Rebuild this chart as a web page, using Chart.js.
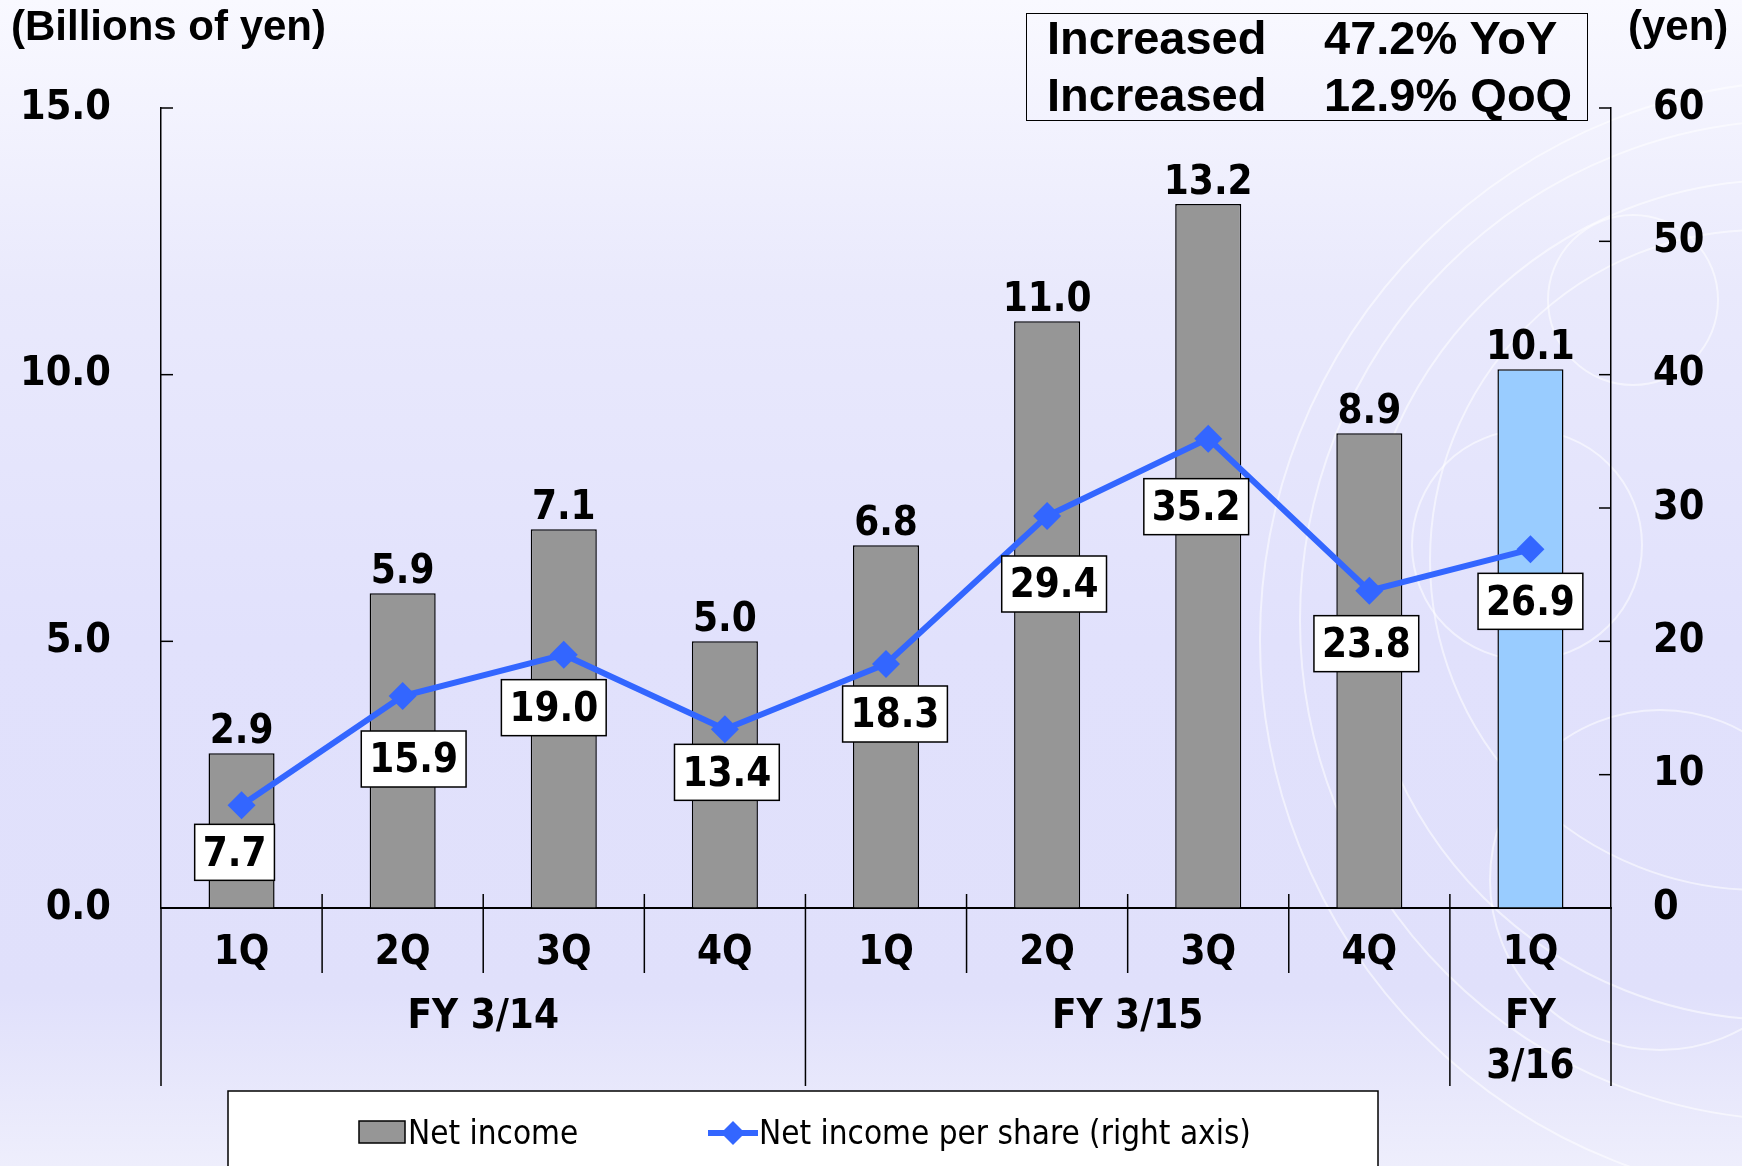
<!DOCTYPE html>
<html>
<head>
<meta charset="utf-8">
<script src="https://cdn.jsdelivr.net/npm/chart.js@4.4.1/dist/chart.umd.min.js"></script>
<style>
  html, body { margin: 0; padding: 0; }
  body {
    width: 1742px; height: 1166px; overflow: hidden; position: relative;
    background: linear-gradient(to bottom, #f9f9ff 0%, #e9e9fc 25%, #e1e1fc 55%, #e0e0fb 85%, #eeeefc 100%);
  }
  #wrap { position: absolute; left: 0; top: 0; width: 1742px; height: 1166px; }
  .unit { position: absolute; top: 2px; font: bold 42px 'Liberation Sans', Arial, sans-serif; color: #000; white-space: nowrap; }
  #note {
    position: absolute; left: 1026px; top: 13px; width: 562px; height: 108px; box-sizing: border-box;
    border: 1.5px solid #000; font: bold 47px 'Liberation Sans', Arial, sans-serif; color: #000;
  }
  #note span { position: absolute; line-height: 47px; white-space: nowrap; }
</style>
</head>
<body>
<div id="wrap"><canvas id="chart" width="1742" height="1166"></canvas></div>
<div class="unit" style="left:11px">(Billions of yen)</div>
<div class="unit" style="left:1628px">(yen)</div>
<div id="note">
  <span style="left:20px;top:0px">Increased</span><span style="left:297px;top:0px">47.2% YoY</span>
  <span style="left:20px;top:57px">Increased</span><span style="left:297px;top:57px">12.9% QoQ</span>
</div>
<script>
const quarters = ['1Q', '2Q', '3Q', '4Q', '1Q', '2Q', '3Q', '4Q', '1Q'];
const fiscalYears = [['FY 3/14'], ['FY 3/15'], ['FY', '3/16']];
const yearStarts = [0, 4, 8];
const yearEnds = [4, 8, 9];
const netIncome = [2.9, 5.9, 7.1, 5.0, 6.8, 11.0, 13.2, 8.9, 10.1];
const netIncomePerShare = [7.7, 15.9, 19.0, 13.4, 18.3, 29.4, 35.2, 23.8, 26.9];
const seriesNames = ['Net income', 'Net income per share (right axis)'];

const boldFont = "'DejaVu Sans Condensed', 'DejaVu Sans', sans-serif";
const BLUE = '#3366ff';
const GRAY = '#969696';

// decorative rings on the right of the slide background
const decor = {
  id: 'decor',
  beforeDraw(chart) {
    const ctx = chart.ctx;
    ctx.save();
    ctx.strokeStyle = 'rgba(255,255,255,0.55)';
    ctx.lineWidth = 2;
    [[1633, 300, 85], [1527, 545, 115], [1660, 880, 170], [1760, 560, 330], [1780, 600, 420], [1800, 620, 500], [1820, 640, 560]]
      .forEach(([x, y, r]) => { ctx.beginPath(); ctx.arc(x, y, r, 0, Math.PI * 2); ctx.stroke(); });
    ctx.restore();
  }
};

const overlay = {
  id: 'overlay',
  afterDatasetsDraw(chart, args, opts) {
    const ctx = chart.ctx;
    const x = chart.scales.x;
    const area = chart.chartArea;
    const slot = (area.right - area.left) / quarters.length;
    ctx.save();

    // bar value labels
    ctx.font = 'bold 40px ' + boldFont;
    ctx.fillStyle = '#000';
    ctx.textAlign = 'center';
    ctx.textBaseline = 'alphabetic';
    chart.getDatasetMeta(1).data.forEach((bar, i) => {
      ctx.fillText(netIncome[i].toFixed(1), bar.x, bar.y - 10);
    });

    // per-share labels in boxes
    ctx.textBaseline = 'middle';
    chart.getDatasetMeta(0).data.forEach((pt, i) => {
      const [dx, dy] = opts.offsets[i];
      const txt = netIncomePerShare[i].toFixed(1);
      const w = ctx.measureText(txt).width + 16;
      const h = 56;
      const cx = pt.x + dx, cy = pt.y + dy;
      ctx.fillStyle = '#fff';
      ctx.fillRect(cx - w / 2, cy - h / 2, w, h);
      ctx.strokeStyle = '#000';
      ctx.lineWidth = 1.5;
      ctx.strokeRect(cx - w / 2, cy - h / 2, w, h);
      ctx.fillStyle = '#000';
      ctx.fillText(txt, cx, cy + 3);
    });

    // category dividers
    ctx.strokeStyle = '#000';
    ctx.lineWidth = 1.5;
    for (let i = 0; i <= quarters.length; i++) {
      const px = area.left + i * slot;
      const isYear = yearStarts.includes(i) || i === quarters.length;
      ctx.beginPath();
      ctx.moveTo(px, area.bottom - (isYear && (i === 0 || i === quarters.length) ? 0 : 14));
      ctx.lineTo(px, area.bottom + (isYear ? 178 : 65));
      ctx.stroke();
    }

    // inside ticks on both value axes
    ['y', 'y1'].forEach(id => {
      const s = chart.scales[id];
      s.ticks.forEach(t => {
        const py = s.getPixelForValue(t.value);
        const ax = id === 'y' ? area.left : area.right;
        ctx.beginPath();
        ctx.moveTo(ax, py);
        ctx.lineTo(id === 'y' ? ax + 12 : ax - 12, py);
        ctx.stroke();
      });
    });

    // category labels
    ctx.fillStyle = '#000';
    ctx.font = 'bold 40px ' + boldFont;
    quarters.forEach((q, i) => ctx.fillText(q, x.getPixelForValue(i), area.bottom + 46));
    fiscalYears.forEach((lines, k) => {
      const cx = area.left + (yearStarts[k] + yearEnds[k]) / 2 * slot;
      lines.forEach((ln, j) => ctx.fillText(ln, cx, area.bottom + 110 + j * 50));
    });

    // legend
    ctx.fillStyle = '#fff';
    ctx.fillRect(228, 1091, 1150, 90);
    ctx.strokeRect(228, 1091, 1150, 90);
    ctx.fillStyle = GRAY;
    ctx.fillRect(359, 1121, 46, 22);
    ctx.strokeStyle = '#000';
    ctx.strokeRect(359, 1121, 46, 22);
    ctx.strokeStyle = BLUE;
    ctx.lineWidth = 6;
    ctx.beginPath(); ctx.moveTo(708, 1133); ctx.lineTo(758, 1133); ctx.stroke();
    ctx.fillStyle = BLUE;
    ctx.beginPath();
    ctx.moveTo(733, 1121); ctx.lineTo(745, 1133); ctx.lineTo(733, 1145); ctx.lineTo(721, 1133);
    ctx.closePath(); ctx.fill();
    ctx.fillStyle = '#000';
    ctx.font = "33px 'DejaVu Sans Condensed', 'DejaVu Sans', sans-serif";
    ctx.textAlign = 'left';
    ctx.fillText(seriesNames[0], 408, 1135);
    ctx.fillText(seriesNames[1], 759, 1135);
    ctx.restore();
  }
};

new Chart(document.getElementById('chart').getContext('2d'), {
  data: {
    labels: quarters,
    datasets: [
      {type: 'line', label: seriesNames[1], data: netIncomePerShare, yAxisID: 'y1', order: 0,
       borderColor: BLUE, backgroundColor: BLUE, borderWidth: 6, pointStyle: 'rectRot',
       pointRadius: 14, pointBackgroundColor: BLUE, pointBorderWidth: 0, tension: 0},
      {type: 'bar', label: seriesNames[0], data: netIncome, yAxisID: 'y', order: 1,
       backgroundColor: netIncome.map((v, i) => i === netIncome.length - 1 ? '#99ccff' : GRAY),
       borderColor: '#000', borderWidth: 1.5, barPercentage: 0.41, categoryPercentage: 1}
    ]
  },
  options: {
    responsive: false,
    animation: false,
    layout: {padding: {top: 108, left: 0, right: 0, bottom: 0}},
    plugins: {legend: {display: false}, tooltip: {enabled: false},
      overlay: {offsets: [[-7, 47], [11, 63], [-10, 53], [2, 43], [9, 50], [7, 68], [-12, 68], [-3, 53], [0, 52]]}},
    scales: {
      x: {
        offset: true,
        grid: {display: false},
        ticks: {display: false},
        border: {display: true, color: '#000', width: 2},
        afterFit: s => { s.height = 258; }
      },
      y: {
        position: 'left', min: 0, max: 15,
        ticks: {stepSize: 5, padding: 50, color: '#000', font: {family: boldFont, size: 41, weight: 'bold'},
                callback: v => v.toFixed(1)},
        grid: {drawOnChartArea: false, drawTicks: false},
        border: {display: true, color: '#000', width: 1.5},
        afterFit: s => { s.width = 161; }
      },
      y1: {
        position: 'right', min: 0, max: 60,
        ticks: {stepSize: 10, padding: 42, color: '#000', font: {family: boldFont, size: 41, weight: 'bold'}},
        grid: {drawOnChartArea: false, drawTicks: false},
        border: {display: true, color: '#000', width: 1.5},
        afterFit: s => { s.width = 131; }
      }
    }
  },
  plugins: [decor, overlay]
});
</script>
</body>
</html>
